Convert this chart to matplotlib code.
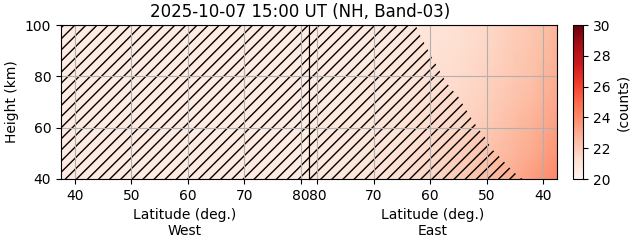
import numpy as np
import matplotlib
matplotlib.use("Agg")
import matplotlib.pyplot as plt

title = "2025-10-07 15:00 UT (NH, Band-03)"
lat_lim = (37.5, 81.5)
hgt_lim = (40, 100)
lat_ticks = [40, 50, 60, 70, 80]

# west side: nearly flat background, fully hatched
west_lat = [37.5, 60, 81.5]
west_hgt = [40, 70, 100]
west_counts = [
    [20.7, 20.7, 20.6],
    [20.6, 20.6, 20.6],
    [20.6, 20.6, 20.6],
]

# east side
east_lat = [81.5, 75, 70, 65, 60, 55, 50, 45, 42, 40, 37.5]
east_hgt = [40, 50, 60, 70, 80, 90, 100]
east_counts = [
    [20.8, 20.9, 21.0, 21.3, 21.6, 22.0, 22.4, 23.0, 23.4, 23.7, 24.1],
    [20.7, 20.8, 21.0, 21.2, 21.5, 21.8, 22.2, 22.7, 23.0, 23.3, 23.7],
    [20.7, 20.8, 20.9, 21.1, 21.4, 21.6, 22.0, 22.5, 22.8, 23.0, 23.4],
    [20.7, 20.7, 20.8, 21.0, 21.3, 21.5, 21.8, 22.3, 22.5, 22.8, 23.1],
    [20.6, 20.7, 20.8, 20.9, 21.2, 21.4, 21.7, 22.1, 22.3, 22.6, 22.9],
    [20.6, 20.6, 20.7, 20.9, 21.1, 21.3, 21.6, 22.0, 22.2, 22.4, 22.8],
    [20.6, 20.6, 20.7, 20.8, 21.0, 21.2, 21.5, 21.9, 22.1, 22.3, 22.7],
]

# edge of the hatched (flagged) area on the east side: hatched poleward of this
bnd_hgt = [40, 42, 45, 48, 52, 56, 60, 64, 68, 72, 76, 80, 84, 88, 92, 96, 100]
bnd_lat = [43.6, 44.8, 46.2, 47.4, 49.2, 50.2, 51.6, 52.8, 53.9, 55.0,
           56.6, 57.8, 58.8, 59.9, 60.8, 61.8, 62.6]

vmin, vmax = 20, 30
cmap = "Reds"

fig = plt.figure(figsize=(6.31, 2.43), dpi=100)
ax_w = fig.add_axes([61 / 631, 1 - 179 / 243, 248 / 631, 154 / 243])
ax_e = fig.add_axes([309 / 631, 1 - 179 / 243, 248 / 631, 154 / 243])
cax = fig.add_axes([572.5 / 631, 1 - 179 / 243, 10.5 / 631, 154 / 243])

X, Y = np.meshgrid(west_lat, west_hgt)
ax_w.pcolormesh(X, Y, np.array(west_counts), shading="gouraud",
                cmap=cmap, vmin=vmin, vmax=vmax)
ax_w.fill_betweenx(hgt_lim, lat_lim[0], lat_lim[1], hatch="///",
                   facecolor="none", edgecolor="k", linewidth=0)

X, Y = np.meshgrid(east_lat, east_hgt)
mesh = ax_e.pcolormesh(X, Y, np.array(east_counts), shading="gouraud",
                       cmap=cmap, vmin=vmin, vmax=vmax)
ax_e.fill_betweenx(bnd_hgt, bnd_lat, lat_lim[1], hatch="///",
                   facecolor="none", edgecolor="k", linewidth=0)

for ax, side in [(ax_w, "West"), (ax_e, "East")]:
    ax.set_ylim(*hgt_lim)
    ax.set_xticks(lat_ticks)
    ax.set_yticks([40, 60, 80, 100])
    ax.grid(True)
    ax.set_xlabel("Latitude (deg.)\n" + side)

ax_w.set_xlim(*lat_lim)
ax_e.set_xlim(lat_lim[1], lat_lim[0])
ax_w.set_ylabel("Height (km)")
ax_e.tick_params(axis="y", left=False, labelleft=False)

cb = fig.colorbar(mesh, cax=cax)
cb.set_ticks([20, 22, 24, 26, 28, 30])
cb.set_label("(counts)")

fig.text(300 / 631, 1 - 12 / 243, title, ha="center", va="center",
         fontsize=12)

fig.savefig("out.png", dpi=100)
